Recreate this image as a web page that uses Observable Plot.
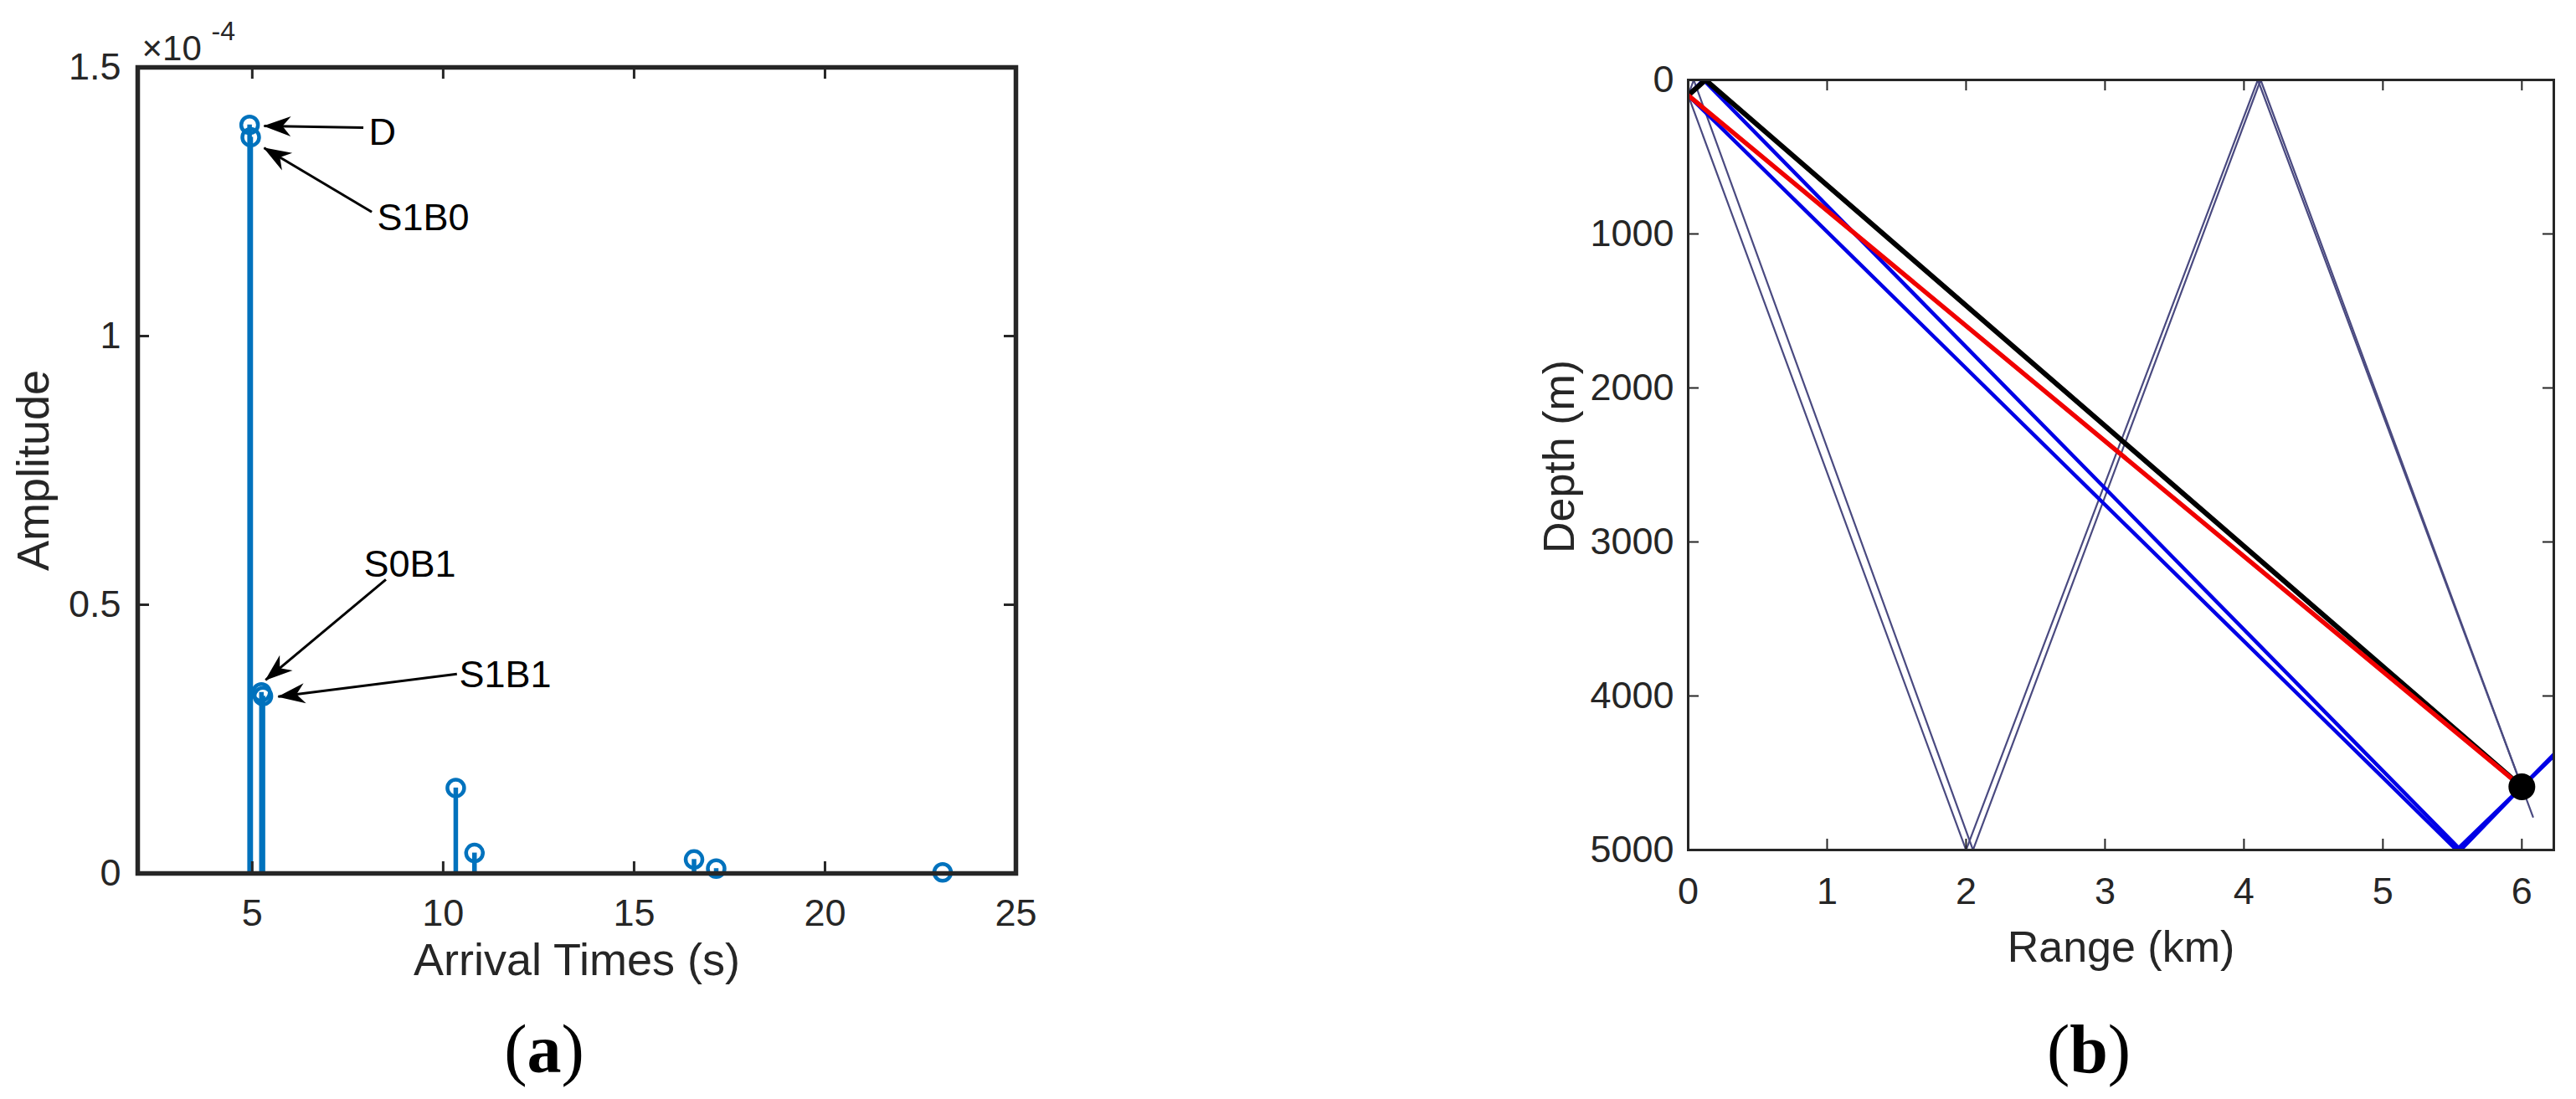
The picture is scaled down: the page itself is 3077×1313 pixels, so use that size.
<!DOCTYPE html>
<html>
<head>
<meta charset="utf-8">
<script src="https://cdn.jsdelivr.net/npm/d3@7"></script>
<script src="https://cdn.jsdelivr.net/npm/@observablehq/plot@0.6"></script>
<style>
html, body { margin: 0; padding: 0; background: #ffffff; }
#root { position: relative; width: 3077px; height: 1313px; overflow: hidden; background: #ffffff; }
.plab { position: absolute; font-family: 'Liberation Serif', 'DejaVu Serif', serif; font-size: 82px; line-height: 1; color: #000; transform: translateX(-50%); white-space: nowrap; }
</style>
</head>
<body>
<div id="root"></div>
<script>
// ---------------- Panel (a): arrival amplitudes (units of 1e-4) ----------------
const aXDomain = [2, 25];
const aYDomain = [0, 1.5];
const aXTicks = [5, 10, 15, 20, 25];
const aYTicks = [0, 0.5, 1, 1.5];
const arrivalTimes = [4.93, 4.96, 5.24, 5.28, 10.33, 10.82, 16.57, 17.15, 23.08];
const amplitudes   = [1.393, 1.370, 0.337, 0.330, 0.159, 0.038, 0.026, 0.009, 0.002];
const aXLabel = "Arrival Times (s)";
const aYLabel = "Amplitude";
const aExpBase = "×10";
const aExpPower = "-4";

// annotations (data coordinates)
const annLabels = ["D", "S1B0", "S0B1", "S1B1"];
const annTextT  = [8.05, 8.27, 7.92, 10.42];
const annTextA  = [1.378, 1.219, 0.574, 0.369];
const annTailT  = [7.91, 8.13, 8.50, 10.36];
const annTailA  = [1.388, 1.231, 0.547, 0.371];
const annTipT   = [5.31, 5.31, 5.35, 5.68];
const annTipA   = [1.391, 1.350, 0.360, 0.329];

// ---------------- Panel (b): ray paths (range km, depth m) ----------------
const bXDomain = [0, 6.23];
const bYDomain = [0, 5000];
const bXTicks = [0, 1, 2, 3, 4, 5, 6];
const bYTicks = [0, 1000, 2000, 3000, 4000, 5000];
const bXLabel = "Range (km)";
const bYLabel = "Depth (m)";

const directRange = [0, 6.0];
const directDepth = [100, 4590];
const s1b0Range = [0, 0.125, 6.0];
const s1b0Depth = [100, 0, 4590];
const s0b1Range = [0, 5.53, 6.0, 6.23];
const s0b1Depth = [100, 5000, 4590, 4390];
const s1b1Range = [0, 0.11, 5.56, 6.0, 6.23];
const s1b1Depth = [100, 0, 5000, 4590, 4380];
const b1s1Range = [0, 2.00, 4.10, 6.0, 6.08];
const b1s1Depth = [100, 5000, 0, 4590, 4785];
const s1b1s1Range = [0, 0.04, 2.05, 4.12, 6.0];
const s1b1s1Depth = [100, 0, 5000, 0, 4590];
const recvRange = [6.0];
const recvDepth = [4590];

const panelLabels = ["a", "b"];

// ---------------- helpers ----------------
const ink = "#262626";
const stemColor = "#0072BD";
const fontFam = "'Liberation Sans', Arial, Helvetica, sans-serif";
const pts = (xs, ys) => xs.map((x, i) => [x, ys[i]]);

function filledHead(color, context) {
  const doc = (context && context.document) || document;
  const ns = "http://www.w3.org/2000/svg";
  const m = doc.createElementNS(ns, "marker");
  m.setAttribute("viewBox", "-36 -15 38 30");
  m.setAttribute("markerWidth", 38);
  m.setAttribute("markerHeight", 30);
  m.setAttribute("markerUnits", "userSpaceOnUse");
  m.setAttribute("orient", "auto");
  m.setAttribute("refX", 0);
  m.setAttribute("refY", 0);
  m.setAttribute("overflow", "visible");
  const p = doc.createElementNS(ns, "path");
  p.setAttribute("d", "M1,0L-32,-12L-22,0L-32,12Z");
  p.setAttribute("fill", color);
  p.setAttribute("stroke", "none");
  m.appendChild(p);
  return m;
}

const stems = arrivalTimes.map((t, i) => ({t, a: amplitudes[i]}));
const ann = annLabels.map((label, i) => ({
  label, tx: annTextT[i], ta: annTextA[i],
  x1: annTailT[i], y1: annTailA[i], x2: annTipT[i], y2: annTipA[i]
}));

// ---------------- Panel (a) ----------------
const AW = 1540, AH = 1313, aML = 164, aMR = 327, aMT = 80, aMB = 270;
const aPW = AW - aML - aMR, aPH = AH - aMT - aMB;

function plotA(custom) {
  const arrowMark = custom
    ? Plot.link(ann, {x1: "x1", y1: "y1", x2: "x2", y2: "y2", stroke: "#000", strokeWidth: 3, markerEnd: filledHead})
    : Plot.arrow(ann, {x1: "x1", y1: "y1", x2: "x2", y2: "y2", stroke: "#000", strokeWidth: 3, headLength: 30, headAngle: 50});
  return Plot.plot({
    width: AW, height: AH,
    marginLeft: aML, marginRight: aMR, marginTop: aMT, marginBottom: aMB,
    style: {fontFamily: fontFam, fontSize: "45px", color: ink, background: "transparent", overflow: "visible"},
    x: {domain: aXDomain},
    y: {domain: aYDomain},
    marks: [
      Plot.ruleX(stems, {x: "t", y1: 0, y2: "a", stroke: stemColor, strokeWidth: 5.5}),
      Plot.dot(stems, {x: "t", y: "a", r: 10, stroke: stemColor, strokeWidth: 4.5, fill: "none"}),
      Plot.tickX(aXTicks, {x: d => d, stroke: ink, strokeWidth: 3, insetTop: aPH - 14}),
      Plot.tickX(aXTicks, {x: d => d, stroke: ink, strokeWidth: 3, insetBottom: aPH - 14}),
      Plot.tickY(aYTicks, {y: d => d, stroke: ink, strokeWidth: 3, insetRight: aPW - 14}),
      Plot.tickY(aYTicks, {y: d => d, stroke: ink, strokeWidth: 3, insetLeft: aPW - 14}),
      Plot.frame({stroke: ink, strokeWidth: 5.5}),
      Plot.axisX(aXTicks, {tickSize: 0, tickPadding: 31, label: null, tickFormat: d => String(d), fontSize: 45}),
      Plot.axisY(aYTicks, {tickSize: 0, tickPadding: 20, label: null, tickFormat: d => String(d), fontSize: 45}),
      arrowMark,
      Plot.text(ann, {x: "tx", y: "ta", text: "label", textAnchor: "start", lineAnchor: "middle", fill: "#000", fontSize: 45}),
      Plot.text([aExpBase], {text: d => d, frameAnchor: "top-left", dx: 5, dy: -9, textAnchor: "start", lineAnchor: "bottom", fontSize: 42, fill: ink}),
      Plot.text([aExpPower], {text: d => d, frameAnchor: "top-left", dx: 88, dy: -33, textAnchor: "start", lineAnchor: "bottom", fontSize: 32, fill: ink}),
      Plot.text([aYLabel], {text: d => d, frameAnchor: "left", rotate: -90, dx: -107, textAnchor: "middle", lineAnchor: "bottom", fontSize: 54, fill: ink}),
      Plot.text([aXLabel], {text: d => d, frameAnchor: "bottom", dy: 121, textAnchor: "middle", lineAnchor: "bottom", fontSize: 54, fill: ink})
    ]
  });
}

let svgA;
try { svgA = plotA(true); } catch (e) { svgA = plotA(false); }

// ---------------- Panel (b) ----------------
const BW = 1537, BH = 1313, bML = 476, bMR = 27, bMT = 95, bMB = 298;
const bPW = BW - bML - bMR, bPH = BH - bMT - bMB;
const thinColor = "#4a4a80";
const lineXY = {x: d => d[0], y: d => d[1], clip: true};

const svgB = Plot.plot({
  width: BW, height: BH,
  marginLeft: bML, marginRight: bMR, marginTop: bMT, marginBottom: bMB,
  style: {fontFamily: fontFam, fontSize: "45px", color: ink, background: "transparent", overflow: "visible"},
  x: {domain: bXDomain},
  y: {domain: bYDomain, reverse: true},
  marks: [
    Plot.line(pts(b1s1Range, b1s1Depth), {...lineXY, stroke: thinColor, strokeWidth: 2.2}),
    Plot.line(pts(s1b1s1Range, s1b1s1Depth), {...lineXY, stroke: thinColor, strokeWidth: 2.2}),
    Plot.line(pts(s0b1Range, s0b1Depth), {...lineXY, stroke: "#0000e6", strokeWidth: 4.5, strokeLinejoin: "miter"}),
    Plot.line(pts(s1b1Range, s1b1Depth), {...lineXY, stroke: "#0000e6", strokeWidth: 4.5, strokeLinejoin: "miter"}),
    Plot.line(pts(s1b0Range, s1b0Depth), {...lineXY, stroke: "#000000", strokeWidth: 6, strokeLinejoin: "miter"}),
    Plot.line(pts(directRange, directDepth), {...lineXY, stroke: "#f00000", strokeWidth: 5.5}),
    Plot.dot(pts(recvRange, recvDepth), {x: d => d[0], y: d => d[1], r: 16, fill: "#000", stroke: "none"}),
    Plot.tickX(bXTicks, {x: d => d, stroke: ink, strokeWidth: 2, insetTop: bPH - 13}),
    Plot.tickX(bXTicks, {x: d => d, stroke: ink, strokeWidth: 2, insetBottom: bPH - 13}),
    Plot.tickY(bYTicks, {y: d => d, stroke: ink, strokeWidth: 2, insetRight: bPW - 13}),
    Plot.tickY(bYTicks, {y: d => d, stroke: ink, strokeWidth: 2, insetLeft: bPW - 13}),
    Plot.frame({stroke: ink, strokeWidth: 3}),
    Plot.axisX(bXTicks, {tickSize: 0, tickPadding: 33, label: null, tickFormat: d => String(d), fontSize: 45}),
    Plot.axisY(bYTicks, {tickSize: 0, tickPadding: 17, label: null, tickFormat: d => String(d), fontSize: 45}),
    Plot.text([bYLabel], {text: d => d, frameAnchor: "left", rotate: -90, dx: -137, dy: -10, textAnchor: "middle", lineAnchor: "bottom", fontSize: 52, fill: ink}),
    Plot.text([bXLabel], {text: d => d, frameAnchor: "bottom", dy: 133, textAnchor: "middle", lineAnchor: "bottom", fontSize: 52, fill: ink})
  ]
});

const root = document.getElementById("root");
svgA.style.position = "absolute"; svgA.style.left = "0px"; svgA.style.top = "0px";
svgB.style.position = "absolute"; svgB.style.left = "1540px"; svgB.style.top = "0px";
root.appendChild(svgA);
root.appendChild(svgB);

// panel letters
const labelCenters = [650, 2495];
panelLabels.forEach((l, i) => {
  const d = document.createElement("div");
  d.className = "plab";
  d.style.left = labelCenters[i] + "px";
  d.style.top = "1213px";
  d.append("(");
  const b = document.createElement("b");
  b.textContent = l;
  d.append(b);
  d.append(")");
  root.appendChild(d);
});
</script>
</body>
</html>
